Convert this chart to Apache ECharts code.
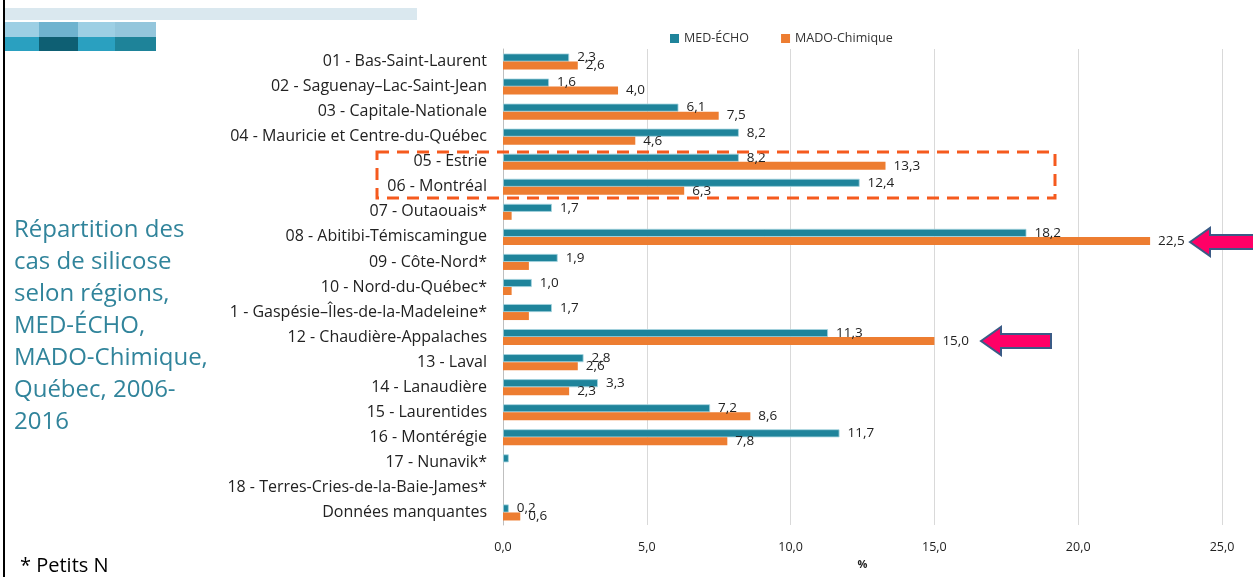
<!DOCTYPE html>
<html><head><meta charset="utf-8">
<script src="https://cdn.jsdelivr.net/npm/echarts@6/dist/echarts.min.js"></script>
<style>html,body{margin:0;padding:0;background:#fff}#c{width:1253px;height:577px}</style>
</head><body><div id="c"></div>
<script>
const categories = [
  "01 - Bas-Saint-Laurent","02 - Saguenay–Lac-Saint-Jean","03 - Capitale-Nationale",
  "04 - Mauricie et Centre-du-Québec","05 - Estrie","06 - Montréal","07 - Outaouais*",
  "08 - Abitibi-Témiscamingue","09 - Côte-Nord*","10 - Nord-du-Québec*",
  "1 - Gaspésie–Îles-de-la-Madeleine*","12 - Chaudière-Appalaches","13 - Laval",
  "14 - Lanaudière","15 - Laurentides","16 - Montérégie","17 - Nunavik*",
  "18 - Terres-Cries-de-la-Baie-James*","Données manquantes"
];
const medEcho = [2.3,1.6,6.1,8.2,8.2,12.4,1.7,18.2,1.9,1.0,1.7,11.3,2.8,3.3,7.2,11.7,0.2,null,0.2];
const madoChimique = [2.6,4.0,7.5,4.6,13.3,6.3,0.3,22.5,0.9,0.3,0.9,15.0,2.6,2.3,8.6,7.8,null,null,0.6];
const medLabelShown = [1,1,1,1,1,1,1,1,1,1,1,1,1,1,1,1,0,0,1];
const madoLabelShown = [1,1,1,1,1,1,0,1,0,0,0,1,1,1,1,1,0,0,1];
const xTicks = [0,5,10,15,20,25];
const seriesNames = ["MED-ÉCHO","MADO-Chimique"];
const titleLines = ["Répartition des","cas de silicose","selon régions,","MED-ÉCHO,","MADO-Chimique,","Québec, 2006-","2016"];

const fmt = v => Number(v).toFixed(1).replace('.', ',');
const FONT = "Open Sans";
const chart = echarts.init(document.getElementById('c'));

function mk(vals, shown){
  return vals.map((v,i)=>({value:v, label:{show: !!shown[i] && v!=null}}));
}

const arrow = (tipX, y, tailX) => ({
  type:'polygon', z:100,
  shape:{points:[[tipX,y],[tipX+20,y-14],[tipX+20,y-7],[tailX,y-7],[tailX,y+7],[tipX+20,y+7],[tipX+20,y+14]]},
  style:{fill:'#FF0066', stroke:'#3B5B86', lineWidth:2}
});

const graphics = [
  {type:'rect', shape:{x:3,y:0,width:2,height:577}, style:{fill:'#000'}},
  {type:'rect', shape:{x:5,y:8,width:412,height:12}, style:{fill:'#DAE8EF'}},
  {type:'rect', shape:{x:5,y:22,width:34,height:15}, style:{fill:'#9DCFE4'}},
  {type:'rect', shape:{x:39,y:22,width:39,height:15}, style:{fill:'#6FB3CF'}},
  {type:'rect', shape:{x:78,y:22,width:37,height:15}, style:{fill:'#9DCFE4'}},
  {type:'rect', shape:{x:115,y:22,width:41,height:15}, style:{fill:'#94C6DC'}},
  {type:'rect', shape:{x:5,y:37,width:34,height:14}, style:{fill:'#2AA0C0'}},
  {type:'rect', shape:{x:39,y:37,width:39,height:14}, style:{fill:'#0E5F73'}},
  {type:'rect', shape:{x:78,y:37,width:37,height:14}, style:{fill:'#2AA0C0'}},
  {type:'rect', shape:{x:115,y:37,width:41,height:14}, style:{fill:'#1E8399'}},
  {type:'text', left:14, top:214, style:{text:titleLines.join('\n'), fill:'#31849B', font:'24px "Open Sans"', lineHeight:32}},
  {type:'text', left:20, top:556, style:{text:'* Petits N', fill:'#000', font:'20px "Open Sans"'}},
  {type:'rect', z:90, shape:{x:377,y:152,width:678,height:46}, style:{fill:'none', stroke:'#F55A1E', lineWidth:3, lineDash:[12,8]}},
  arrow(1190, 242, 1260),
  arrow(981, 341, 1051)
];

chart.setOption({
  animation:false,
  textStyle:{fontFamily:FONT},
  legend:{top:27, left:665, itemWidth:9, itemHeight:9, itemGap:32, icon:'rect',
    itemStyle:{borderWidth:0},
    textStyle:{fontSize:12.5, color:'#333', fontFamily:FONT}, data:seriesNames},
  grid:{left:503, right:31, top:49, bottom:52, containLabel:false},
  xAxis:{type:'value', min:0, max:25, interval:5,
    name:'%', nameLocation:'middle', nameGap:31, nameTextStyle:{fontSize:11, fontWeight:'bold', color:'#222'},
    axisLine:{show:false}, axisTick:{show:false},
    axisLabel:{formatter:v=>fmt(v), fontSize:12.5, color:'#222', margin:16},
    splitLine:{lineStyle:{color:'#D9D9D9'}}},
  yAxis:{type:'category', data:categories, inverse:true,
    axisLine:{lineStyle:{color:'#BFBFBF'}}, axisTick:{show:false},
    axisLabel:{fontSize:16, color:'#222', margin:16}},
  series:[
    {name:seriesNames[0], type:'bar', data:mk(medEcho, medLabelShown), barWidth:8, barGap:'0%',
      itemStyle:{color:'#1F849B', borderColor:'#A6D4E0', borderWidth:0.8},
      label:{position:'right', distance:8, fontSize:13.5, color:'#222', formatter:p=>fmt(p.value)}},
    {name:seriesNames[1], type:'bar', data:mk(madoChimique, madoLabelShown), barWidth:8, barGap:'0%',
      itemStyle:{color:'#ED7D31'},
      label:{position:'right', distance:8, fontSize:13.5, color:'#222', formatter:p=>fmt(p.value)}}
  ],
  graphic:graphics
});
</script></body></html>
